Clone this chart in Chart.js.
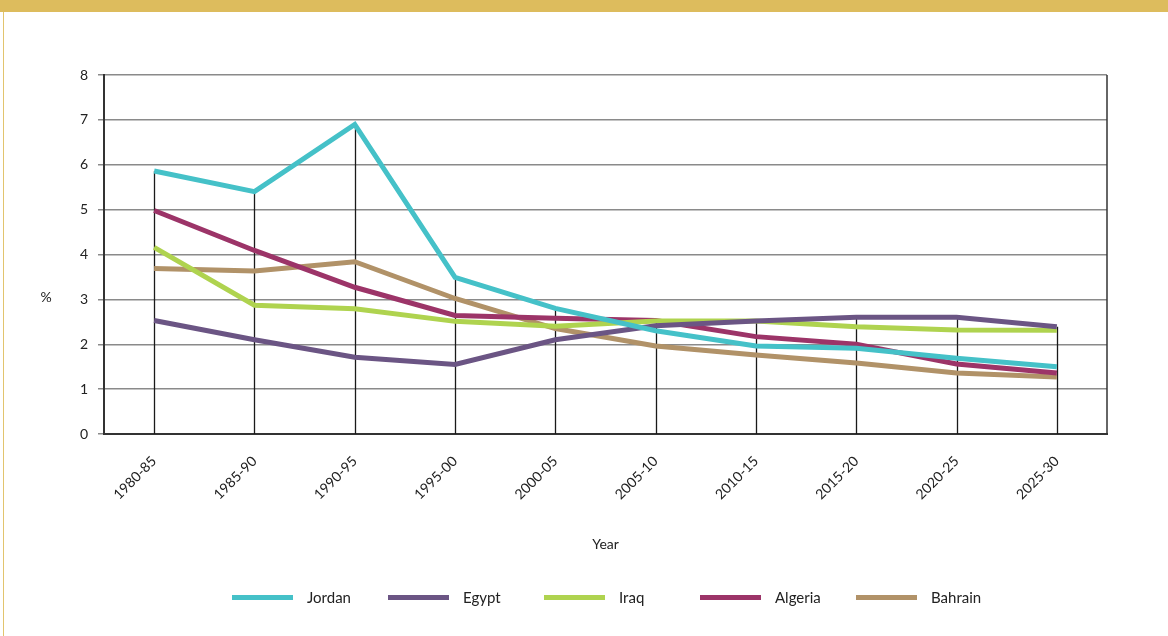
<!DOCTYPE html>
<html>
<head>
<meta charset="utf-8">
<script src="https://cdn.jsdelivr.net/npm/chart.js@4.4.1/dist/chart.umd.min.js"></script>
<style>
  html, body { margin: 0; padding: 0; background: #fff; }
  #wrap { position: relative; width: 1168px; height: 636px; overflow: hidden; }
  #banner { position: absolute; left: 0; top: 0; width: 1168px; height: 12px; background: #DDBC5D; }
  #edge { position: absolute; left: 3px; top: 12px; width: 1px; height: 624px; background: #E2C46E; }
  canvas { position: absolute; left: 0; top: 0; }
  #legend { position: absolute; left: 232px; top: 586px; height: 22px; display: flex; font-family: Lato, 'Open Sans', sans-serif; font-size: 15px; color: #222; }
  .item { width: 156px; display: flex; align-items: center; }
  .sw { width: 61px; height: 5px; margin-right: 14px; }
</style>
</head>
<body>
<div id="wrap">
  <div id="banner"></div>
  <div id="edge"></div>
  <canvas id="c" width="1168" height="636"></canvas>
  <div id="legend"></div>
</div>
<script>
const categories = ["1980-85","1985-90","1990-95","1995-00","2000-05","2005-10","2010-15","2015-20","2020-25","2025-30"];
const jordan  = [5.86, 5.40, 6.90, 3.49, 2.80, 2.30, 1.96, 1.91, 1.69, 1.50];
const egypt   = [2.53, 2.10, 1.71, 1.55, 2.10, 2.41, 2.52, 2.60, 2.60, 2.39];
const iraq    = [4.16, 2.87, 2.79, 2.51, 2.40, 2.52, 2.52, 2.39, 2.32, 2.31];
const algeria = [4.98, 4.09, 3.27, 2.64, 2.58, 2.53, 2.17, 2.00, 1.56, 1.36];
const bahrain = [3.69, 3.63, 3.84, 3.02, 2.35, 1.96, 1.76, 1.58, 1.36, 1.27];
const yTicks  = [0, 1, 2, 3, 4, 5, 6, 7, 8];
const yTitle = "%";
const xTitle = "Year";

const FONT = "Lato, 'Open Sans', sans-serif";

const dropLines = {
  id: 'dropLines',
  beforeDatasetsDraw(chart) {
    const {ctx, chartArea, scales} = chart;
    ctx.save();
    ctx.strokeStyle = '#333';
    ctx.lineWidth = 1.5;
    ctx.beginPath();
    ctx.moveTo(chartArea.right, chartArea.top);
    ctx.lineTo(chartArea.right, chartArea.bottom);
    ctx.stroke();
    ctx.strokeStyle = '#1a1a1a';
    ctx.lineWidth = 1.3;
    categories.forEach((c, i) => {
      let m = -Infinity;
      chart.data.datasets.forEach(ds => { if (ds.data[i] > m) m = ds.data[i]; });
      const x = Math.round(scales.x.getPixelForValue(i)) + 0.5;
      ctx.beginPath();
      ctx.moveTo(x, scales.y.getPixelForValue(m));
      ctx.lineTo(x, chartArea.bottom);
      ctx.stroke();
    });
    ctx.restore();
  },
  afterDraw(chart) {
    const {ctx, scales} = chart;
    ctx.save();
    ctx.fillStyle = '#222';
    ctx.font = "14px " + FONT;
    ctx.textAlign = 'center';
    ctx.textBaseline = 'middle';
    ctx.fillText(yTitle, 46, scales.y.getPixelForValue(3) - 2);
    ctx.restore();
  }
};

const mk = (label, data, color) => ({
  label, data, borderColor: color, backgroundColor: color,
  borderWidth: 5, pointRadius: 0, pointHoverRadius: 0, tension: 0,
  borderCapStyle: 'butt', borderJoinStyle: 'miter', fill: false
});

const chart = new Chart(document.getElementById('c'), {
  type: 'line',
  data: {
    labels: categories,
    datasets: [
      mk("Jordan", jordan, "#45C1C8"),
      mk("Egypt", egypt, "#6B5584"),
      mk("Iraq", iraq, "#AFD34F"),
      mk("Algeria", algeria, "#9C3468"),
      mk("Bahrain", bahrain, "#B19268")
    ]
  },
  options: {
    responsive: false,
    animation: false,
    layout: { padding: { top: 75, right: 61, bottom: 52, left: 0 } },
    plugins: {
      tooltip: { enabled: false },
      legend: { display: false }
    },
    scales: {
      x: {
        offset: true,
        grid: { display: false, drawTicks: false },
        border: { display: true, color: '#333', width: 2 },
        ticks: { color: '#222', font: { family: FONT, size: 14 }, maxRotation: 45, minRotation: 45, padding: 19 },
        title: { display: true, text: xTitle, color: '#222', font: { family: FONT, size: 14 }, padding: { top: 0, bottom: 31 } },
        afterFit(s) { s.height = 150; }
      },
      y: {
        min: 0, max: 8,
        afterBuildTicks(s) { s.ticks = yTicks.map(v => ({ value: v })); },
        grid: { color: '#8a8a8a', lineWidth: 1.5, tickLength: 6, drawTicks: true },
        border: { display: true, color: '#333', width: 2 },
        ticks: { color: '#222', font: { family: FONT, size: 14 }, padding: 10 },
        afterFit(s) { s.width = 104; }
      }
    }
  },
  plugins: [dropLines]
});

const legendEl = document.getElementById('legend');
chart.data.datasets.forEach(ds => {
  const item = document.createElement('div');
  item.className = 'item';
  const sw = document.createElement('span');
  sw.className = 'sw';
  sw.style.background = ds.borderColor;
  const tx = document.createElement('span');
  tx.textContent = ds.label;
  item.appendChild(sw);
  item.appendChild(tx);
  legendEl.appendChild(item);
});
</script>
</body>
</html>
